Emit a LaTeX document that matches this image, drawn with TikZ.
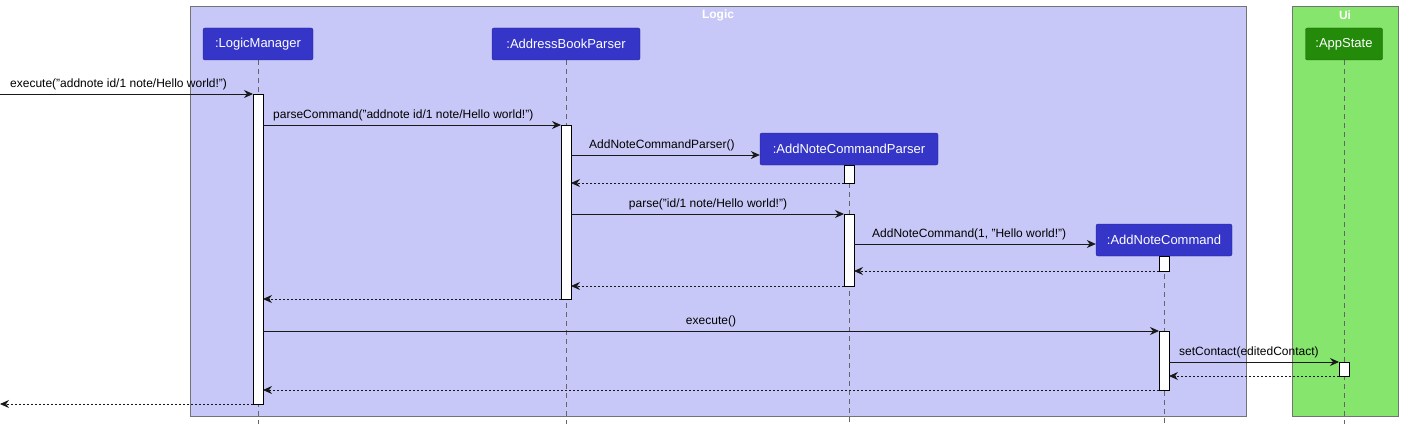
\documentclass[tikz,border=0pt]{standalone}
\usepackage{fontspec}
\setmainfont{Liberation Sans}
\usetikzlibrary{arrows.meta}
\definecolor{logicbg}{HTML}{C8C8F8}
\definecolor{uibg}{HTML}{86E56C}
\definecolor{partc}{HTML}{3535C8}
\definecolor{partg}{HTML}{238A0A}
\begin{document}
\begin{tikzpicture}[x=1pt,y=-1pt,
  part/.style={draw=partc!70!black,fill=partc,text=white,rounded corners=2pt,font=\fontsize{13}{15}\selectfont,inner sep=0pt,minimum height=32pt},
  life/.style={draw=black!60,dash pattern=on 5pt off 4pt,line width=0.6pt},
  act/.style={draw=black,fill=white,line width=0.8pt},
  msg/.style={draw=black!90,line width=0.8pt,-{Stealth[length=9pt,width=8pt,inset=3pt]}},
  ret/.style={msg,dash pattern=on 2pt off 2pt},
  lbl/.style={font=\fontsize{12}{14}\selectfont,inner sep=1pt,anchor=south}]
\useasboundingbox (0,0) rectangle (1401,428);
\fill[white] (0,0) rectangle (1401,428);
\node[draw=black!55,fill=logicbg,line width=1pt,minimum width=1056pt,minimum height=410pt,anchor=north west,inner sep=0pt] (logic) at (190,6) {};
\node[draw=black!55,fill=uibg,line width=1pt,minimum width=106pt,minimum height=410pt,anchor=north west,inner sep=0pt] (ui) at (1292,6) {};
\node[text=white,font=\bfseries\fontsize{12}{14}\selectfont] (lt) at (718,15) {Logic};
\node[text=white,font=\bfseries\fontsize{12}{14}\selectfont] (ut) at (1345,15) {Ui};
% lifelines
\foreach \n/\x/\y in {lm/258/60,abp/566/60,ancp/849/165,anc/1164/256,as/1344/60}{
  \coordinate (\n top) at (\x,\y); \coordinate (\n bot) at (\x,424);
  \draw[life] (\n top) -- (\n bot);}
% participants
\node[part,minimum width=110pt] (lm) at (258,44) {:LogicManager};
\node[part,minimum width=148pt] (abp) at (566,44) {:AddressBookParser};
\node[part,minimum width=178pt] (ancp) at (849,149) {:AddNoteCommandParser};
\node[part,minimum width=136pt] (anc) at (1164,240) {:AddNoteCommand};
\node[part,fill=partg,draw=partg!70!black,minimum width=77pt] (as) at (1344,44) {:AppState};
% activations
\draw[act] (253,94) rectangle (263,404);
\draw[act] (561,125) rectangle (571,299);
\draw[act] (844,165) rectangle (854,183);
\draw[act] (844,214) rectangle (854,286);
\draw[act] (1159,256) rectangle (1169,271);
\draw[act] (1159,331) rectangle (1169,390);
\draw[act] (1339,362) rectangle (1349,376);
% endpoints
\coordinate (in) at (0,94); \coordinate (out) at (0,404);
% messages
\draw[msg] (in) -- (253,94);
\node[lbl,anchor=south west] (m1) at (9,91) {execute("addnote id/1 note/Hello world!")};
\draw[msg] (263,125) -- (561,125);
\node[lbl,anchor=south west] (m2) at (272,122) {parseCommand("addnote id/1 note/Hello world!")};
\draw[msg] (571,155) -- (ancp.west |- 0,155);
\node[lbl,anchor=south west] (m3) at (588,152) {AddNoteCommandParser()};
\draw[ret] (844,183) -- (571,183);
\draw[msg] (571,214) -- (844,214);
\node[lbl] (m4) at (708,211) {parse("id/1 note/Hello world!")};
\draw[msg] (854,244) -- (anc.west |- 0,244);
\node[lbl,anchor=south west] (m5) at (871,241) {AddNoteCommand(1, "Hello world!")};
\draw[ret] (1159,271) -- (854,271);
\draw[ret] (844,286) -- (571,286);
\draw[ret] (561,299) -- (263,299);
\draw[msg] (263,331) -- (1159,331);
\node[lbl] (m6) at (711,328) {execute()};
\draw[msg] (1169,362) -- (1339,362);
\node[lbl,anchor=south west] (m7) at (1178,359) {setContact(editedContact)};
\draw[ret] (1339,376) -- (1169,376);
\draw[ret] (1159,390) -- (263,390);
\draw[ret] (253,404) -- (out);
\end{tikzpicture}
\end{document}
